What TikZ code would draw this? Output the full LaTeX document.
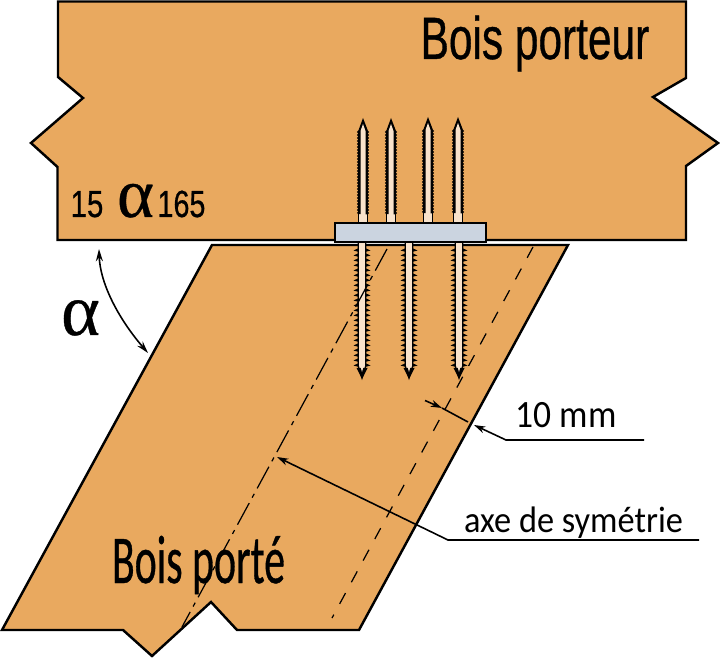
\documentclass[tikz,border=0pt]{standalone}
\usepackage{fontspec}
\setmainfont{Liberation Sans}
\newfontfamily\heavyfont[RawFeature={embolden=0.7}]{Liberation Sans}
\newfontfamily\humanfont{Carlito}
\newfontfamily\humanheavy[RawFeature={embolden=0.7}]{Carlito}
\newfontfamily\greekfont[RawFeature={embolden=0.5}]{Liberation Serif}
\usepackage{tikz}
\usetikzlibrary{arrows.meta, positioning}
\definecolor{woodtone}{HTML}{E9A95F}
\definecolor{shafttone}{HTML}{F8E2CB}
\definecolor{platetone}{HTML}{CBD4E0}

\begin{document}
\begin{tikzpicture}[x=0.02cm,y=-0.02cm,
                    woodpart/.style={draw=black, fill=woodtone, line width=1.4pt, line join=miter},
                    leader/.style={draw=black, line width=0.9pt},
                    pointer/.style={leader, -{Stealth[length=6.5pt,width=4pt]}},
                    word/.style={inner sep=0pt, anchor=base, text=black}]

  \useasboundingbox (0,0) rectangle (720,658);

  % beams
  \draw[woodpart] (58,1.5) -- (686,1.5) -- (686,78) -- (653,97) -- (718,143) -- (686,166)
                  -- (686,240) -- (57.5,240) -- (57.5,167) -- (31,143) -- (83,98) -- (58,77) -- cycle;
  \draw[woodpart] (212,245) -- (568,245) -- (359,630) -- (237,630) -- (211,602) -- (152,656)
                  -- (123,630) -- (2,630) -- cycle;

  % upper part of the fixings
  \foreach \nx/\ny in {363/118, 391/118, 428/117, 458/117} {
    \fill[shafttone, draw=black, line width=0.3pt] (\nx-4.5,\ny+95) rectangle (\nx+4.5,224);
    \fill[black] (\nx,\ny) -- (\nx+5,\ny+13)
      \foreach \ty in {0,3,...,81} { -- (\nx+6.2,\ny+14+\ty) -- (\nx+4.6,\ny+15.5+\ty) }
      -- (\nx-4.6,\ny+96)
      \foreach \ty in {81,78,...,0} { -- (\nx-6.2,\ny+14+\ty) -- (\nx-4.6,\ny+12.5+\ty) }
      -- cycle;
    \fill[shafttone] (\nx,\ny+6) -- (\nx+2.5,\ny+13) -- (\nx+2.5,\ny+97) -- (\nx-2.5,\ny+97) -- (\nx-2.5,\ny+13) -- cycle;
  }

  % lower part of the fixings
  \foreach \nx in {362, 409, 459} {
    \foreach \ty in {248,253,...,363} {
      \fill[black] (\nx-3,\ty) -- (\nx-8.5,\ty+2.5) -- (\nx-3,\ty+4) -- cycle;
      \fill[black] (\nx+3,\ty) -- (\nx+8.5,\ty+2.5) -- (\nx+3,\ty+4) -- cycle;
    }
    \draw[fill=shafttone, line width=0.7pt] (\nx-3.7,242) -- (\nx+3.7,242) -- (\nx+3.7,366) -- (\nx,378)
      -- (\nx-3.7,366) -- cycle;
    \fill[black] (\nx-5.5,368) -- (\nx+5.5,368) -- (\nx,379) -- cycle;
    \fill[shafttone] (\nx-2.8,362) -- (\nx+2.8,362) -- (\nx,372) -- cycle;
  }

  % plate
  \node[draw=black, fill=platetone, line width=0.9pt, inner sep=0pt,
        minimum width=3.02cm, minimum height=0.38cm] (plate) at (410.5,232.5) {};

  % axis and offset line
  \coordinate (axisTop)    at (387,249);
  \coordinate (axisBottom) at (182,627);
  \coordinate (edgeTop)    at (533,247);
  \coordinate (edgeBottom) at (332,618);
  \draw[line width=0.7pt, dash pattern=on 14pt off 3.5pt on 2.5pt off 3.5pt] (axisTop) -- (axisBottom);
  \draw[line width=0.7pt, dash pattern=on 7pt off 7pt] (edgeTop) -- (edgeBottom);

  % labels
  \node[word, font=\heavyfont\fontsize{34}{36}\selectfont, xscale=0.71] (carrier) at (535,59) {Bois porteur};
  \node[word, font=\humanheavy\fontsize{39}{41}\selectfont, xscale=0.61] (carried) at (198.5,583) {Bois porté};
  \node[word, font=\heavyfont\fontsize{21.5}{23}\selectfont, xscale=0.78] (lowLimit) at (87,217) {15};
  \node[word, font=\greekfont\fontsize{40}{42}\selectfont] (limitAlpha) at (135.5,217) {α};
  \node[word, font=\heavyfont\fontsize{21.5}{23}\selectfont, xscale=0.76] (highLimit) at (181.5,217) {165};
  \node[word, font=\greekfont\fontsize{42}{44}\selectfont] (angleAlpha) at (80.5,335) {α};
  \node[word, font=\humanfont\fontsize{22}{24}\selectfont, xscale=0.92] (gapLabel) at (566,427) {10 mm};
  \node[word, font=\humanfont\fontsize{21}{23}\selectfont, xscale=0.93] (axisLabel) at (573.5,532) {axe de symétrie};

  % angle arrow
  \coordinate (angleTop)    at (99,249);
  \coordinate (angleBottom) at (148,353);
  \draw[leader, {Stealth[length=7pt,width=4pt]}-{Stealth[length=7pt,width=4pt]}]
    (angleTop) .. controls (100,282) and (117,317) .. (angleBottom);

  % 10 mm dimension
  \coordinate (dimStart) at (425,400.5);
  \coordinate (dimTip)   at (442,408);
  \coordinate (dimEdge)  at (468,422);
  \coordinate (gapTip)   at (474,425);
  \coordinate (gapKnee)  at (506,440);
  \coordinate (gapEnd)   at (644,440);
  \draw[pointer] (dimStart) -- (dimTip);
  \draw[leader] (dimTip) -- (dimEdge);
  \draw[pointer] (gapEnd) -- (gapKnee) -- (gapTip);

  % symmetry axis leader
  \coordinate (axisTip)  at (277,457);
  \coordinate (axisKnee) at (448,540);
  \coordinate (axisEnd)  at (699,540);
  \draw[pointer] (axisEnd) -- (axisKnee) -- (axisTip);

\end{tikzpicture}
\end{document}
